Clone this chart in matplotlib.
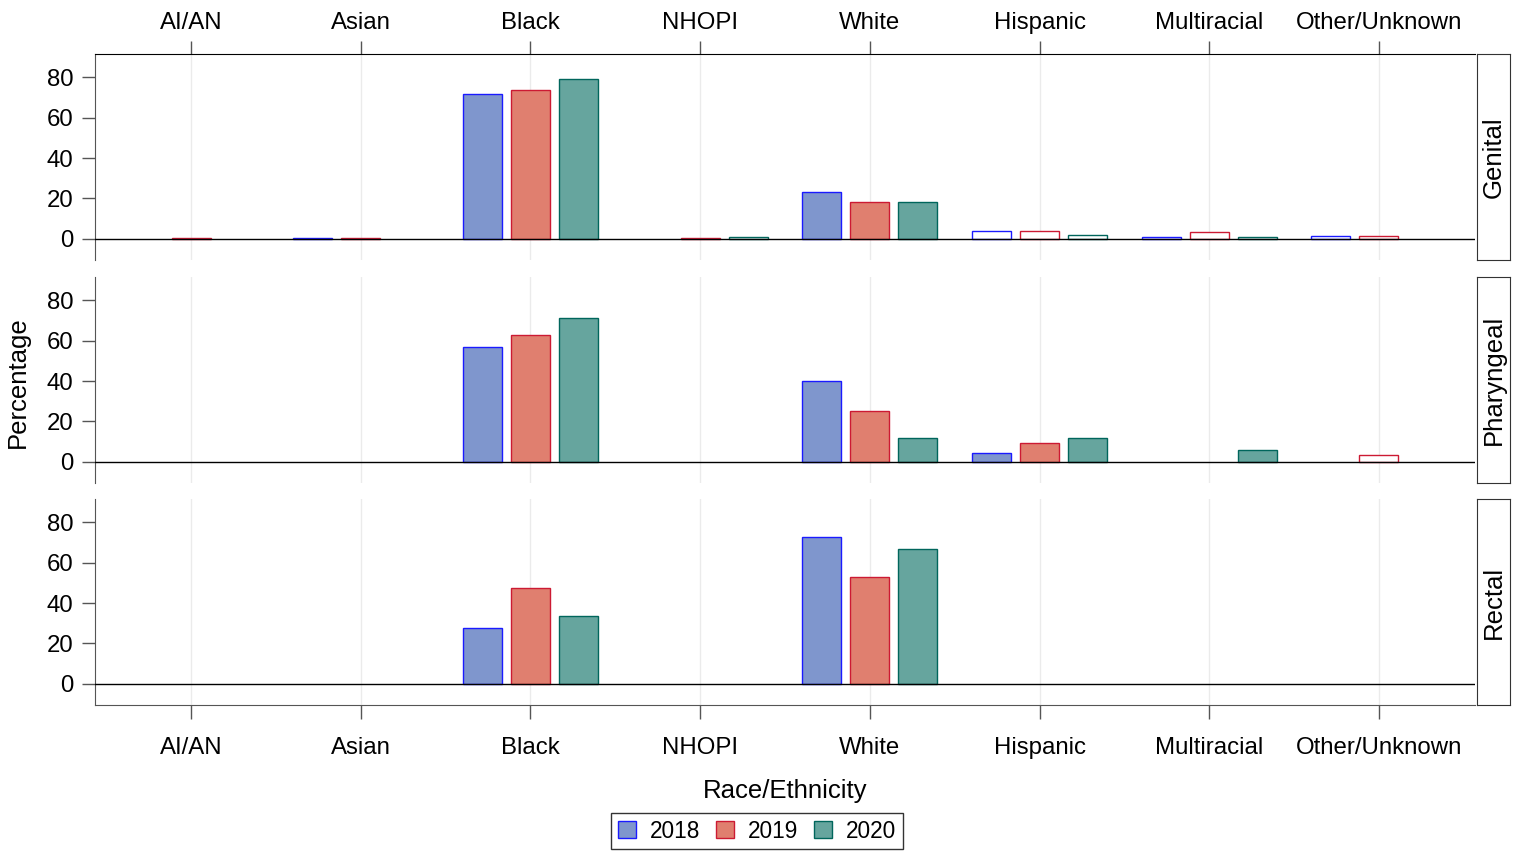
import numpy as np
import matplotlib
matplotlib.use("Agg")
import matplotlib.pyplot as plt
from matplotlib.patches import Patch

plt.rcParams['font.family'] = ['Liberation Sans', 'DejaVu Sans']

groups = ['AI/AN', 'Asian', 'Black', 'NHOPI', 'White', 'Hispanic', 'Multiracial', 'Other/Unknown']
years = ['2018', '2019', '2020']
sites = ['Genital', 'Pharyngeal', 'Rectal']

nan = np.nan
# percentages per site, one list per year (nan = no bar)
genital_2018 = [nan, 0.3, 71.6, nan, 23.2, 3.8, 1.2, 1.5]
genital_2019 = [0.3, 0.3, 73.6, 0.3, 18.3, 3.8, 3.2, 1.5]
genital_2020 = [nan, nan, 79.0, 1.0, 18.3, 2.0, 1.2, nan]

pharyngeal_2018 = [nan, nan, 56.8, nan, 40.0, 4.3, nan, nan]
pharyngeal_2019 = [nan, nan, 62.7, nan, 25.2, 9.5, nan, 3.3]
pharyngeal_2020 = [nan, nan, 71.1, nan, 11.9, 11.9, 6.1, nan]

rectal_2018 = [nan, nan, 27.7, nan, 72.6, nan, nan, nan]
rectal_2019 = [nan, nan, 47.4, nan, 52.8, nan, nan, nan]
rectal_2020 = [nan, nan, 33.6, nan, 66.7, nan, nan, nan]

data = {
    'Genital': [genital_2018, genital_2019, genital_2020],
    'Pharyngeal': [pharyngeal_2018, pharyngeal_2019, pharyngeal_2020],
    'Rectal': [rectal_2018, rectal_2019, rectal_2020],
}

fills = ['#7f96cd', '#e07f6f', '#66a59e']
edges = ['#1a1aff', '#cc1a33', '#00665c']

W, H = 1519, 851
fig = plt.figure(figsize=(W / 100, H / 100), dpi=100)


def box(x0, y0, x1, y1):
    return [x0 / W, 1 - y1 / H, (x1 - x0) / W, (y1 - y0) / H]


panel_y = [(54, 260), (277, 483), (499, 705)]
x = np.arange(len(groups))
offsets = [-0.283, 0, 0.283]
bw = 0.23
tick_fs = 17.3
title_fs = 18.5

for k, site in enumerate(sites):
    y0, y1 = panel_y[k]
    ax = fig.add_axes(box(95, y0, 1475, y1))
    for gx in x:
        ax.axvline(gx, color='#ebebeb', lw=1, zorder=0)
    ax.axhline(0, color='black', lw=1, zorder=3)
    for i in range(3):
        vals = np.array(data[site][i])
        ok = ~np.isnan(vals)
        fc = [fills[i] if v >= 4 else 'white' for v in vals[ok]]
        ax.bar(x[ok] + offsets[i], vals[ok], width=bw, color=fc,
               edgecolor=edges[i], linewidth=1, zorder=2)
    ax.set_xlim(-0.566, 7.566)
    ax.set_ylim(-10.4, 91.4)
    ax.set_yticks([0, 20, 40, 60, 80])
    ax.tick_params(axis='y', labelsize=tick_fs, length=9.4, width=1, color='#555555', pad=6)
    for s in ['top', 'right', 'bottom']:
        ax.spines[s].set_visible(False)
    ax.spines['left'].set_color('#555555')
    ax.set_xticks(x)
    if k == 0:
        ax.spines['top'].set_visible(True)
        ax.xaxis.tick_top()
        ax.set_xticklabels(groups)
        ax.tick_params(axis='x', labelsize=tick_fs, length=9.4, width=1, color='#555555', pad=8.6)
        for lbl in ax.get_xticklabels():
            lbl.set_va('baseline')
    elif k == 2:
        ax.spines['bottom'].set_visible(True)
        ax.spines['bottom'].set_color('#555555')
        ax.set_xticklabels(groups)
        ax.tick_params(axis='x', labelsize=tick_fs, length=10, width=1, color='#555555', pad=25.5)
        for lbl in ax.get_xticklabels():
            lbl.set_va('baseline')
        ax.set_xlabel('Race/Ethnicity', fontsize=title_fs, labelpad=14.5)
    else:
        ax.tick_params(axis='x', length=0, labelbottom=False)

    sax = fig.add_axes(box(1477, y0, 1510, y1))
    sax.set_xticks([])
    sax.set_yticks([])
    for s in sax.spines.values():
        s.set_color('#333333')
    sax.text(0.5, 0.5, site, rotation=90, ha='center', va='center',
             fontsize=title_fs, transform=sax.transAxes)

fig.text(18 / W, 1 - 382 / H, 'Percentage', rotation=90, ha='center', va='center', fontsize=title_fs)

handles = [Patch(facecolor=fills[i], edgecolor=edges[i], label=years[i]) for i in range(3)]
leg = fig.legend(handles=handles, loc='center', bbox_to_anchor=(757 / W, 1 - 831 / H),
                 ncol=3, fontsize=16.3, frameon=True, fancybox=False, handlelength=0.8,
                 handleheight=0.8, handletextpad=0.6, columnspacing=0.7,
                 borderpad=0.3, borderaxespad=0)
leg.get_frame().set_edgecolor('black')
leg.get_frame().set_linewidth(1)

fig.savefig('out.png', dpi=100)
